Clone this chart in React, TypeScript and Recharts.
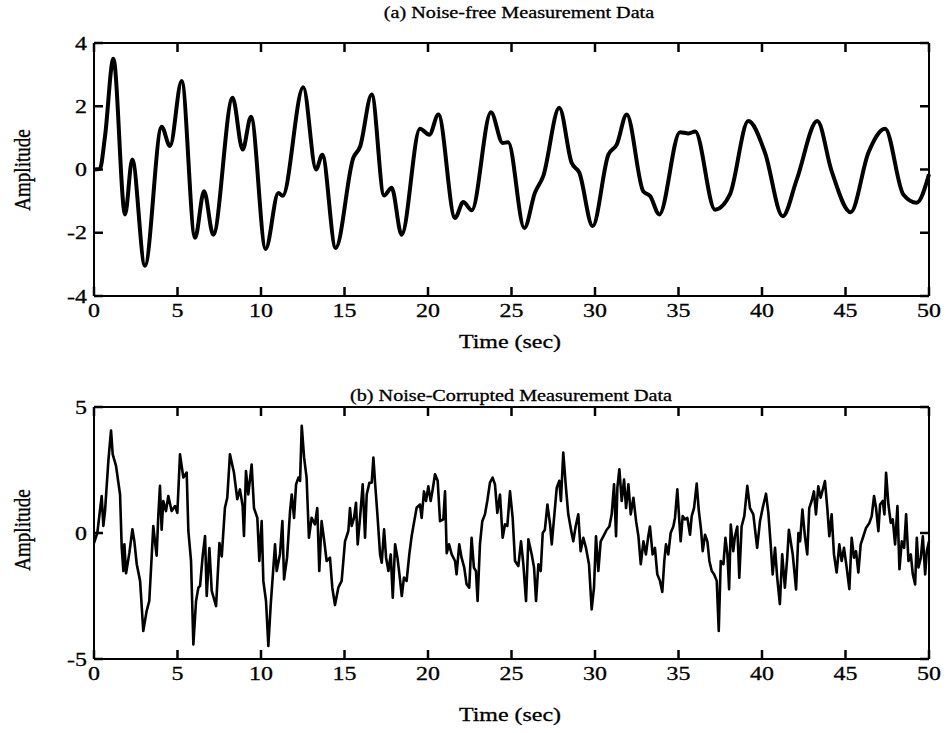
import { LineChart, Line, XAxis, YAxis } from "recharts";

// (a) noise-free response, read at peaks / troughs / shoulders
const cleanTime = [
  0, 0.35, 0.66, 1.16, 1.86, 2.29, 3.05, 4.05, 4.55, 5.25, 6.05, 6.59, 7.14, 8.3, 8.9, 9.4,
  10.28, 11.04, 11.3, 12.53, 13.3, 13.67, 14.47, 15.53, 15.93, 16.63, 17.37, 17.82, 18.42,
  19.52, 20.08, 20.62, 21.62, 22.11, 22.62, 23.77, 24.47, 24.8, 25.77, 26.4, 26.9, 27.86,
  28.6, 29.06, 29.86, 30.8, 31.3, 31.9, 32.89, 33.3, 33.85, 35.09, 35.6, 36.0, 37.19, 38.08,
  39.18, 40.18, 41.24, 42.08, 43.31, 44.17, 45.31, 46.37, 47.37, 48.46, 49.26, 50,
];
const cleanAmp = [
  0, 0.02, 1.05, 3.5, -1.42, 0.32, -3.04, 1.35, 0.74, 2.8, -2.16, -0.69, -2.06, 2.27, 0.63, 1.67,
  -2.51, -0.74, -0.83, 2.6, 0, 0.47, -2.48, 0.37, 0.72, 2.37, -0.82, -0.58, -2.06,
  1.29, 1.1, 1.74, -1.53, -1.03, -1.29, 1.81, 0.84, 0.86, -1.85, -0.74, -0.21, 1.95,
  0.21, -0.1, -1.79, 0.47, 0.79, 1.74, -0.69, -0.84, -1.42, 1.18, 1.14, 1.2, -1.27, -0.79,
  1.53, 0.53, -1.48, -0.32, 1.53, -0.05, -1.35, 0.53, 1.29, -0.79, -1.05, -0.15,
];

// (b) noise-corrupted measurement
const noisyTime = [
  0, 0.2, 0.46, 0.56, 0.66, 0.86, 1.02, 1.12, 1.32, 1.56, 1.66, 1.76, 1.82, 1.92, 2.12, 2.3, 2.42,
  2.56, 2.76, 2.95, 3.15, 3.31, 3.45, 3.55, 3.65, 3.75, 3.85, 3.95, 4.05, 4.15, 4.31, 4.45, 4.65,
  4.85, 4.99, 5.15, 5.35, 5.55, 5.65, 5.81, 5.95, 6.11, 6.25, 6.35, 6.51, 6.65, 6.75, 6.91, 7.05,
  7.31, 7.51, 7.65, 7.84, 7.98, 8.14,
  8.38, 8.58, 8.74, 8.9, 8.98, 9.1, 9.24, 9.44, 9.58, 9.78, 9.9, 10.04, 10.14, 10.3, 10.44, 10.58,
  10.84, 10.94, 11.14, 11.28, 11.38, 11.56, 11.74, 11.84, 11.98, 12.1, 12.24, 12.34, 12.44, 12.58,
  12.73, 12.87, 13.03, 13.23, 13.37, 13.49, 13.63, 13.79, 13.93, 14.13, 14.27, 14.43, 14.63, 14.83,
  15.03, 15.23, 15.33, 15.43, 15.57, 15.69, 15.79, 15.93, 16.09, 16.23, 16.33, 16.49,
  16.63, 16.73, 16.83, 16.97, 17.13, 17.23, 17.37, 17.49, 17.63, 17.77, 17.89, 18.03, 18.17, 18.29,
  18.43, 18.56, 18.72, 18.88, 19.02, 19.12, 19.32, 19.52, 19.62, 19.76, 19.88, 20.02, 20.16, 20.28,
  20.42, 20.58, 20.72, 20.92, 21.02, 21.12, 21.26, 21.42, 21.62, 21.71, 21.87, 22.01, 22.17, 22.31,
  22.47, 22.61, 22.75, 22.87, 22.97, 23.11, 23.25, 23.41, 23.55, 23.71, 23.87, 24.01, 24.15, 24.31,
  24.47, 24.61, 24.75,
  24.91, 25.07, 25.21, 25.41, 25.57, 25.71, 25.87, 26.01, 26.21, 26.35, 26.47, 26.61, 26.75, 26.87,
  27.0, 27.15, 27.31, 27.41, 27.55, 27.71, 27.86, 27.96, 28.1, 28.26, 28.4, 28.6, 28.7, 28.84, 29.0,
  29.14, 29.3, 29.46, 29.64, 29.8, 29.94, 30.06, 30.2, 30.34, 30.5, 30.7, 30.86, 31.0, 31.14, 31.26,
  31.34, 31.46, 31.6, 31.74, 31.86, 32.0, 32.14, 32.3, 32.46, 32.6, 32.74, 32.9, 33.05, 33.19,
  33.29, 33.45, 33.59, 33.73, 33.89, 34.03, 34.15, 34.25, 34.39, 34.53, 34.69, 34.79, 34.93, 35.05,
  35.13, 35.25, 35.39, 35.53, 35.69, 35.79, 35.93, 36.09, 36.21, 36.35, 36.45, 36.59, 36.73, 36.85,
  36.99, 37.13, 37.29, 37.41, 37.53, 37.69, 37.81, 37.93, 38.03, 38.13, 38.28, 38.38, 38.52, 38.64,
  38.78, 38.94, 39.12, 39.28, 39.48, 39.71, 39.88, 40.04, 40.24, 40.38, 40.52, 40.64, 40.78, 40.91,
  41.07, 41.21, 41.37, 41.51, 41.61,
  41.84, 42.04, 42.18, 42.28, 42.42, 42.57, 42.71, 42.83, 42.97, 43.11, 43.23, 43.37, 43.51, 43.67,
  43.77, 43.91, 44.03, 44.17, 44.31, 44.47, 44.63, 44.77, 44.91, 45.07, 45.23, 45.37, 45.51, 45.63,
  45.77, 45.91, 46.07, 46.23, 46.43, 46.57, 46.71, 46.83, 46.97, 47.07, 47.23, 47.33, 47.43, 47.57,
  47.71, 47.83, 47.97, 48.11, 48.23, 48.37, 48.51, 48.63, 48.77, 48.91, 49.03, 49.17, 49.27, 49.37,
  49.51, 49.63, 49.77, 49.87, 50,
];
const noisyAmp = [
  -0.4, 0.01, 1.47, 0.28, 0.87, 2.86, 4.07, 3.12, 2.66, 1.53, -0.58, -1.51, -0.45, -1.6, -0.78, 0.15, -0.35,
  -1.24, -1.9, -3.89, -3.1, -2.7, -0.98, 0.28, -0.33, -0.9, 0.67, 1.87, 0.13, 1.27, 0.87, 1.47, 0.87,
  1.07, 0.8, 3.12, 2.2, 2.4, 0.08, -1.11, -4.42, -2.7, -2.17, -2.1, -0.9, -0.12, -2.5, -0.6, -2.3,
  -2.9, -0.4, -0.93, 1.0, 1.4, 3.12,
  2.4, 1.34, 1.73, 1.07, -0.12, 2.46, 1.53, 2.72, 0.99, 0.6, -1.11, 0.47, -1.9, -2.7, -4.48, -2.86,
  -0.45, -1.51, -0.82, 0.47, -1.84, -0.98, 0.87, 1.53, 0.6, 1.93, 2.2, 2.07, 4.25, 3.0,
  2.2, -0.19, 0.6, 0.34, 0.99, -1.51, 0.47, -0.33, -1.11, -0.98, -2.17, -2.86, -2.17, -1.9,
  -0.33, 0.08, 0.99, 0.28, 0.6, 1.2, -0.45, 0.6, 1.93, -0.19, 1.53, 1.99,
  2.0, 2.99, 2.0, 0.74, -0.85, -1.18, 0.15, -0.98, -1.51, -0.85, -2.57, -0.45, -0.98, -1.64,
  -2.5, -1.77, -1.9, -0.85, -0.13, 0.26, 1.0, 1.13, 0.6, 1.65, 1.27, 1.85, 1.27, 1.73,
  2.33, 2.07, 0.47, 0.54, 1.65, -0.8, -0.45, -0.85, -1.11, -1.64, -0.45, -0.98, -1.37, -2.03,
  -2.17, -0.19, -1.37, -1.51, -2.7, -0.45, 0.47, 0.74, 1.27, 2.0, 2.2, 1.93, 0.8, 1.53,
  -0.19, 0.34, 0.28,
  1.65, 0.6, -1.11, -1.31, -0.33, -1.24, -2.7, -0.25, -0.85, -1.37, -2.7, -1.24, -1.51, 0.0,
  0.13, 1.13, 0.34, -0.45, 0.6, 1.8, 2.07, 1.27, 3.19, 1.8, 0.74, 0.0, -0.33, 0.26, 0.74,
  -0.72, -0.19, -0.59, -1.24, -3.03, -2.17, -0.13, -1.51, -0.33, -0.13, 0.13, 0.26, 0.74, 1.93, -0.13,
  1.8, 2.53, 1.27, 2.12, 0.99, 1.93, 0.74, 1.4, 0.47, -0.13, -1.24, -0.33, -0.85, -0.13,
  0.26, -0.85, -0.59, -1.64, -1.9, -2.34, -1.11, -0.45, -0.85, 0.0, 0.26, 0.6, 1.73, 0.47,
  -0.33, 0.67, 0.54, 0.6, -0.07, 0.67, 0.99, 1.96, 0.93, 0.13, -0.72, -0.07, -0.33, -1.11,
  -1.51, -1.64, -1.9, -3.89, -1.11, -1.24, -0.19, -0.85, -2.23, 0.34, -0.72, -0.13, 0.26, -1.77,
  0.26, 0.67, 1.87, 0.99, 0.74, -0.59, 0.47, 0.99, 1.56, 0.8, -0.45, -1.64, -0.59, -1.77,
  -2.82, -0.85, -2.17, -0.98, 0.13,
  -0.85, -2.24, 0.0, -0.33, 0.93, -0.13, -0.85, 0.99, 1.27, 1.65, 0.74, 1.85, 1.4, 1.8,
  2.06, 0.99, -0.13, 0.74, -0.85, -1.57, -0.45, -1.11, -0.59, -1.37, -2.23, -0.19, -0.98, -0.72,
  -1.57, -0.45, -0.13, 0.2, 0.4, 0.67, 1.47, 0.99, 0.07, 1.13, 1.27, 0.74, 2.39, 1.13,
  0.4, 0.54, -0.45, 1.07, -1.44, -0.33, -0.59, 0.74, -1.11, -0.85, -1.64, -2.04, -0.19, -1.37,
  -0.98, -0.13, -1.64, -0.72, -0.33,
];

const timeTicks = [0, 5, 10, 15, 20, 25, 30, 35, 40, 45, 50];
const cleanTicks = [-4, -2, 0, 2, 4];
const noisyTicks = [-5, 0, 5];

const FONT = "'Liberation Serif', 'Times New Roman', serif";
const TICK_LEN = 9;
const STRETCH = 1.26; // the scanned figure is wider than tall, text included

const cleanData = cleanTime.map((t, i) => ({ t, v: cleanAmp[i] }));
const noisyData = noisyTime.map((t, i) => ({ t, v: noisyAmp[i] }));

const BottomTick = (props: any) => {
  const { x, y, payload } = props;
  return (
    <g>
      <path d={`M${x},${y}V${y - TICK_LEN}`} stroke="#000" strokeWidth={2.5} fill="none" />
      <text
        transform={`translate(${x},${y + 21}) scale(${STRETCH},1)`}
        textAnchor="middle"
        fontFamily={FONT}
        fontSize={19}
        fill="#000"
        stroke="#000"
        strokeWidth={0.3}
      >
        {payload.value}
      </text>
    </g>
  );
};

const TopTick = (props: any) => {
  const { x, y } = props;
  return <path d={`M${x},${y}V${y + TICK_LEN}`} stroke="#000" strokeWidth={2.5} fill="none" />;
};

const LeftTick = (props: any) => {
  const { x, y, payload } = props;
  return (
    <g>
      <path d={`M${x},${y}H${x + TICK_LEN}`} stroke="#000" strokeWidth={2.5} fill="none" />
      <text
        transform={`translate(${x - 7},${y}) scale(${STRETCH},1)`}
        dy="0.35em"
        textAnchor="end"
        fontFamily={FONT}
        fontSize={19}
        fill="#000"
        stroke="#000"
        strokeWidth={0.3}
      >
        {payload.value}
      </text>
    </g>
  );
};

const RightTick = (props: any) => {
  const { x, y } = props;
  return <path d={`M${x},${y}H${x - TICK_LEN}`} stroke="#000" strokeWidth={2.5} fill="none" />;
};

const axisLine = { stroke: "#000", strokeWidth: 2 };

function Panel({
  data,
  yDomain,
  yTicks,
  height,
  top,
  xAxisHeight,
  strokeWidth,
  curve,
}: {
  data: { t: number; v: number }[];
  yDomain: [number, number];
  yTicks: number[];
  height: number;
  top: number;
  xAxisHeight: number;
  strokeWidth: number;
  curve: "monotone" | "linear";
}) {
  return (
    <LineChart width={947} height={height} data={data} margin={{ top: top - 1, right: 17, bottom: 0, left: 0 }}>
      <XAxis
        dataKey="t"
        type="number"
        domain={[0, 50]}
        ticks={timeTicks}
        height={xAxisHeight}
        tickSize={0}
        tickMargin={0}
        tickLine={false}
        axisLine={axisLine}
        tick={<BottomTick />}
        interval={0}
      />
      <XAxis
        xAxisId="top"
        orientation="top"
        dataKey="t"
        type="number"
        domain={[0, 50]}
        ticks={timeTicks}
        height={1}
        tickSize={0}
        tickMargin={0}
        tickLine={false}
        axisLine={axisLine}
        tick={<TopTick />}
        interval={0}
      />
      <YAxis
        type="number"
        domain={yDomain}
        ticks={yTicks}
        width={94}
        tickSize={0}
        tickMargin={0}
        tickLine={false}
        axisLine={axisLine}
        tick={<LeftTick />}
        interval={0}
      />
      <YAxis
        yAxisId="right"
        orientation="right"
        type="number"
        domain={yDomain}
        ticks={yTicks}
        width={1}
        tickSize={0}
        tickMargin={0}
        tickLine={false}
        axisLine={axisLine}
        tick={<RightTick />}
        interval={0}
      />
      {/* invisible twin so the top and right frame axes get a scale */}
      <Line
        xAxisId="top"
        yAxisId="right"
        dataKey="v"
        stroke="none"
        dot={false}
        activeDot={false}
        legendType="none"
        isAnimationActive={false}
      />
      <Line
        type={curve}
        dataKey="v"
        stroke="#000"
        strokeWidth={strokeWidth}
        strokeLinejoin="round"
        dot={false}
        isAnimationActive={false}
      />
    </LineChart>
  );
}

const textStyle: React.CSSProperties = {
  position: "absolute",
  fontFamily: FONT,
  lineHeight: "22px",
  color: "#000",
  textAlign: "center",
  whiteSpace: "nowrap",
  WebkitTextStroke: "0.3px #000",
};

export default function App() {
  return (
    <div style={{ position: "absolute", left: 0, top: 0, width: 947, height: 733, background: "#fff" }}>
      <div style={{ position: "absolute", left: 0, top: 0 }}>
        <Panel data={cleanData} yDomain={[-4, 4]} yTicks={cleanTicks} height={366} top={43} xAxisHeight={70} strokeWidth={4} curve="monotone" />
      </div>
      <div style={{ position: "absolute", left: 0, top: 366 }}>
        <Panel data={noisyData} yDomain={[-5, 5]} yTicks={noisyTicks} height={367} top={41} xAxisHeight={74} strokeWidth={2.6} curve="linear" />
      </div>

      <div style={{ ...textStyle, fontSize: 16, left: 319, width: 400, top: 2, transform: `scaleX(${STRETCH})` }}>
        (a) Noise-free Measurement Data
      </div>
      <div style={{ ...textStyle, fontSize: 16, left: 311, width: 400, top: 385, transform: `scaleX(${STRETCH})` }}>
        (b) Noise-Corrupted Measurement Data
      </div>
      <div style={{ ...textStyle, fontSize: 19, left: 410, width: 200, top: 331, transform: `scaleX(${STRETCH})` }}>
        Time (sec)
      </div>
      <div style={{ ...textStyle, fontSize: 19, left: 410, width: 200, top: 704, transform: `scaleX(${STRETCH})` }}>
        Time (sec)
      </div>
      <div style={{ ...textStyle, fontSize: 19, left: -78, width: 200, top: 159, transform: `scaleX(${STRETCH}) rotate(-90deg)` }}>
        Amplitude
      </div>
      <div style={{ ...textStyle, fontSize: 19, left: -78, width: 200, top: 519, transform: `scaleX(${STRETCH}) rotate(-90deg)` }}>
        Amplitude
      </div>
    </div>
  );
}
